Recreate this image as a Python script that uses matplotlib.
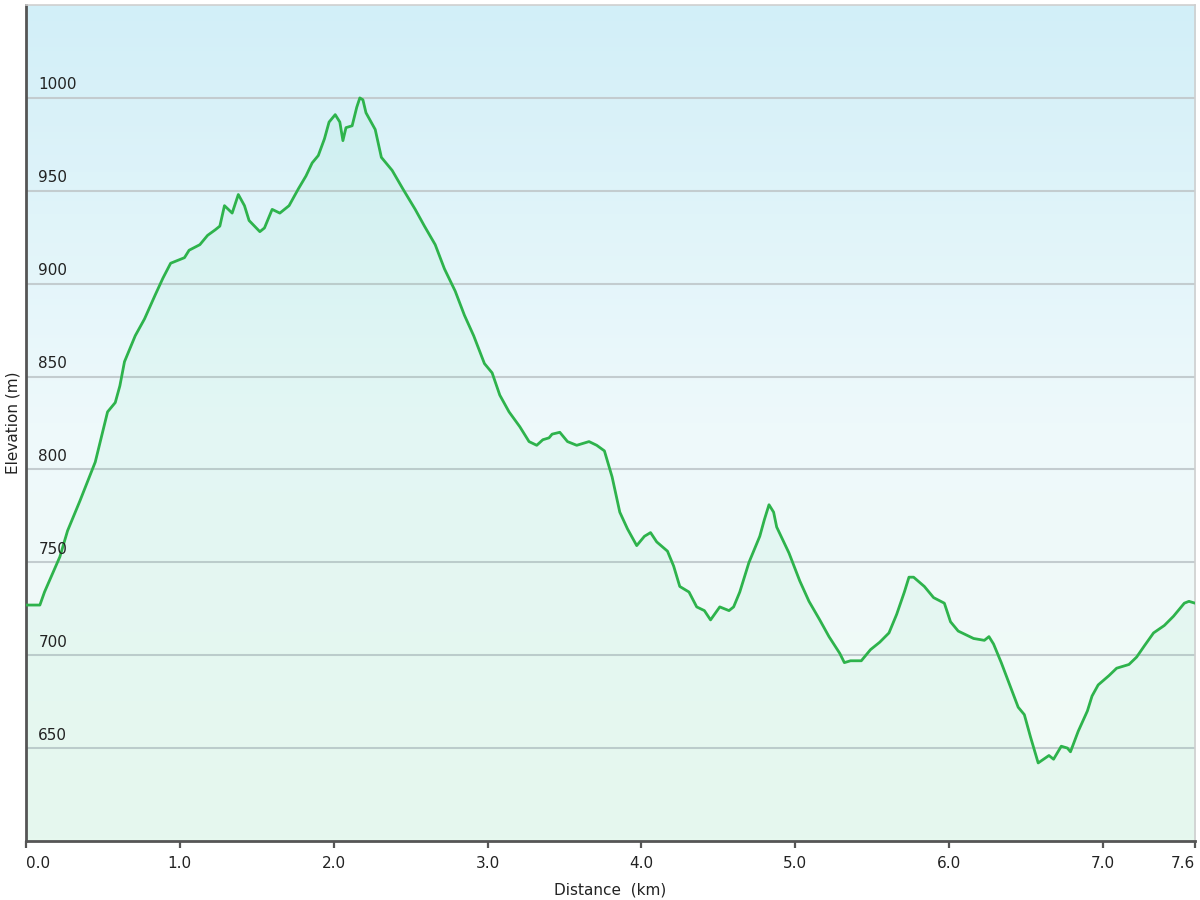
import numpy as np
import matplotlib.pyplot as plt
from matplotlib.colors import LinearSegmentedColormap

# elevation profile (distance km, elevation m)
distance = [0.00, 0.09, 0.12, 0.22, 0.27, 0.35, 0.45, 0.53, 0.58, 0.61, 0.64, 0.71,
            0.77, 0.84, 0.89, 0.94, 1.03, 1.06, 1.13, 1.18, 1.23, 1.26, 1.29, 1.34,
            1.38, 1.42, 1.45, 1.52, 1.55, 1.60, 1.65, 1.71, 1.77, 1.82, 1.86, 1.90,
            1.94, 1.97, 2.01, 2.04, 2.06, 2.08, 2.12, 2.15, 2.17, 2.19, 2.21, 2.27,
            2.31, 2.38, 2.45, 2.53, 2.59, 2.66, 2.72, 2.79, 2.85, 2.91, 2.98, 3.03,
            3.08, 3.14, 3.21, 3.27, 3.32, 3.36, 3.40, 3.42, 3.47, 3.52, 3.58, 3.66,
            3.71, 3.76, 3.81, 3.86, 3.91, 3.97, 4.02, 4.06, 4.10, 4.17, 4.21, 4.25,
            4.31, 4.36, 4.41, 4.45, 4.51, 4.57, 4.60, 4.64, 4.70, 4.77, 4.80, 4.83,
            4.86, 4.88, 4.96, 5.03, 5.09, 5.16, 5.22, 5.29, 5.32, 5.36, 5.43, 5.49,
            5.55, 5.61, 5.66, 5.71, 5.74, 5.77, 5.84, 5.90, 5.97, 6.01, 6.06, 6.16,
            6.23, 6.26, 6.29, 6.34, 6.40, 6.45, 6.49, 6.53, 6.58, 6.65, 6.68, 6.73,
            6.77, 6.79, 6.84, 6.90, 6.93, 6.97, 7.04, 7.09, 7.17, 7.22, 7.27, 7.33,
            7.40, 7.46, 7.53, 7.56, 7.60]
elevation = [727, 727, 734, 753, 767, 783, 804, 831, 836, 845, 858, 872,
             881, 894, 903, 911, 914, 918, 921, 926, 929, 931, 942, 938,
             948, 942, 934, 928, 930, 940, 938, 942, 951, 958, 965, 969,
             978, 987, 991, 987, 977, 984, 985, 995, 1000, 999, 992, 983,
             968, 961, 951, 940, 931, 921, 908, 896, 883, 872, 857, 852,
             840, 831, 823, 815, 813, 816, 817, 819, 820, 815, 813, 815,
             813, 810, 796, 777, 768, 759, 764, 766, 761, 756, 748, 737,
             734, 726, 724, 719, 726, 724, 726, 734, 750, 764, 773, 781,
             777, 769, 755, 740, 729, 719, 710, 701, 696, 697, 697, 703,
             707, 712, 722, 734, 742, 742, 737, 731, 728, 718, 713, 709,
             708, 710, 706, 696, 683, 672, 668, 656, 642, 646, 644, 651,
             650, 648, 659, 670, 678, 684, 689, 693, 695, 699, 705, 712,
             716, 721, 728, 729, 728]

y_ticks = [650, 700, 750, 800, 850, 900, 950, 1000]
x_ticks = [0.0, 1.0, 2.0, 3.0, 4.0, 5.0, 6.0, 7.0, 7.6]
x_min, x_max = 0.0, 7.6
y_min, y_max = 600, 1050

fig = plt.figure(figsize=(12, 9), dpi=100)
ax = fig.add_axes([0.0217, 0.0656, 0.9742, 0.9288])

# background gradient: light blue on top, pale mint at the bottom
bg = LinearSegmentedColormap.from_list('bg', ['#f1fbf5', '#eef9fb', '#d2eff8'])
grad = np.linspace(0, 1, 256).reshape(-1, 1)
ax.imshow(grad, cmap=bg, origin='lower', aspect='auto',
          extent=[x_min, x_max, y_min, y_max], zorder=0)

for yt in y_ticks:
    ax.axhline(yt, color='#c3cccf', lw=1.5, zorder=1)
    ax.text(0.08, yt + 3, str(yt), fontsize=11, color='#222222',
            ha='left', va='bottom', zorder=4)

ax.fill_between(distance, elevation, y_min, color='#40d68c', alpha=0.06, lw=0, zorder=2)
ax.plot(distance, elevation, color='#2eb34c', lw=2.0, zorder=3,
        solid_joinstyle='round')

ax.set_xlim(x_min, x_max)
ax.set_ylim(y_min, y_max)
ax.set_yticks([])
ax.set_xticks(x_ticks)
ax.set_xticklabels(['%.1f' % v for v in x_ticks], fontsize=11, color='#222222')
labels = ax.get_xticklabels()
labels[0].set_horizontalalignment('left')
labels[-1].set_horizontalalignment('right')
ax.tick_params(axis='x', direction='out', length=5, width=1.6, color='#555555', pad=6)

for side in ['left', 'bottom']:
    ax.spines[side].set_color('#555555')
    ax.spines[side].set_linewidth(2)
for side in ['top', 'right']:
    ax.spines[side].set_color('#cfcfcf')
    ax.spines[side].set_linewidth(1.2)

ax.set_xlabel('Distance  (km)', fontsize=11, color='#222222', labelpad=8)
ax.set_ylabel('Elevation (m)', fontsize=11, color='#222222', labelpad=4)

fig.savefig('out.png', dpi=100)
